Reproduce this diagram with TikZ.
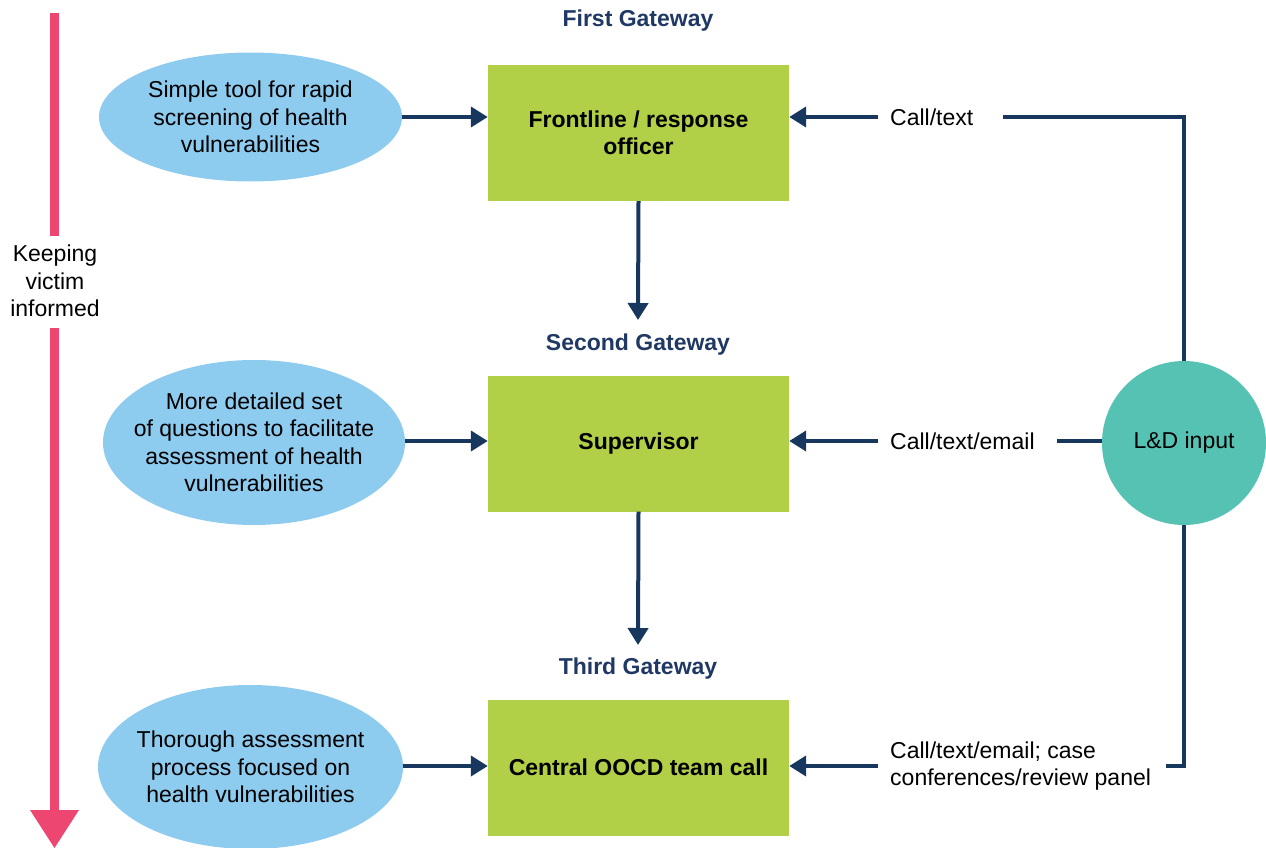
\documentclass[tikz,border=0pt]{standalone}
\usepackage{fontspec}
\setmainfont{Liberation Sans}
\usetikzlibrary{arrows.meta,shapes.geometric}
\definecolor{ellblue}{HTML}{8DCBEF}
\definecolor{boxgreen}{HTML}{B1CF47}
\definecolor{ldteal}{HTML}{56C2B4}
\definecolor{keeppink}{HTML}{EC4671}
\definecolor{navy}{HTML}{17375E}
\definecolor{gatenavy}{HTML}{1F3864}
\tikzset{
  every node/.style={font=\fontsize{23}{27.5}\selectfont, align=center, inner sep=0pt},
  ellshape/.style={ellipse, fill=ellblue, inner sep=0pt},
  gbox/.style={rectangle, fill=boxgreen, minimum width=301pt, minimum height=136pt, font=\fontsize{23}{27.5}\selectfont\bfseries},
  gate/.style={text=gatenavy, font=\fontsize{23}{27.5}\selectfont\bfseries},
  arr/.style={draw=navy, line width=4pt, -{Triangle[length=17pt,width=20pt]}},
  lnk/.style={draw=navy, line width=4pt},
  lbl/.style={anchor=west, inner xsep=12pt, inner ysep=2pt},
}
\begin{document}
\begin{tikzpicture}[x=1pt,y=-1pt]
\useasboundingbox (0,0) rectangle (1266,848);
% pink timeline
\node (keep) at (55,281) {Keeping\\victim\\informed};
\coordinate (ktip) at (54.5,848);
\fill[keeppink] (50,13) rectangle (59,236);
\fill[keeppink] (50,328) rectangle (59,811);
\fill[keeppink] (30,810) -- (79,810) -- (ktip) -- cycle;
% gateways
\node[gate] (g1) at (638,21) {First Gateway};
\node[gate] (g2) at (638,345) {Second Gateway};
\node[gate] (g3) at (638,669) {Third Gateway};
\coordinate (t2) at (638,320);
\coordinate (t3) at (638,645);
% boxes
\node[gbox] (b1) at (638.5,133) {Frontline / response\\officer};
\node[gbox] (b2) at (638.5,443.5) {Supervisor};
\node[gbox] (b3) at (638.5,767.5) {Central OOCD team call};
% ellipses
\node[ellshape, minimum width=303pt, minimum height=129pt] (e1) at (250.5,117) {};
\node at (e1.center) {Simple tool for rapid\\screening of health\\vulnerabilities};
\node[ellshape, minimum width=302pt, minimum height=165pt] (e2) at (254,442.5) {};
\node at (e2.center) {More detailed set\\of questions to facilitate\\assessment of health\\vulnerabilities};
\node[ellshape, minimum width=305pt, minimum height=164pt] (e3) at (250.5,767) {};
\node at (e3.center) {Thorough assessment\\process focused on\\health vulnerabilities};
% L&D
\node[circle, fill=ldteal, minimum size=164pt] (ld) at (1184,443) {L\&D input};
% ellipse -> box arrows
\draw[arr] (e1.east |- 0,117) -- (b1.west |- 0,117);
\draw[arr] (e2.east |- 0,441) -- (b2.west |- 0,441);
\draw[arr] (e3.east |- 0,766) -- (b3.west |- 0,766);
% downward arrows
\draw[arr] (b1.south) -- (t2);
\draw[arr] (b2.south) -- (t3);
% right side labels
\node[lbl] (c1) at (878,117) {Call/text};
\node[lbl] (c2) at (878,441) {Call/text/email};
\node[lbl, align=left] (c3) at (878,766) {Call/text/email; case\\conferences/review panel};
\draw[arr] (c1.west) -- (b1.east |- c1.west);
\draw[arr] (c2.west) -- (b2.east |- c2.west);
\draw[arr] (c3.west) -- (b3.east |- c3.west);
\draw[lnk] ([xshift=18pt]c1.east) -- (ld.north |- c1.east) -- (ld.north);
\draw[lnk] ([xshift=10pt]c2.east) -- (ld.west |- c2.east);
\draw[lnk] ([xshift=3pt]c3.east) -- (ld.south |- c3.east) -- (ld.south);
\end{tikzpicture}
\end{document}
